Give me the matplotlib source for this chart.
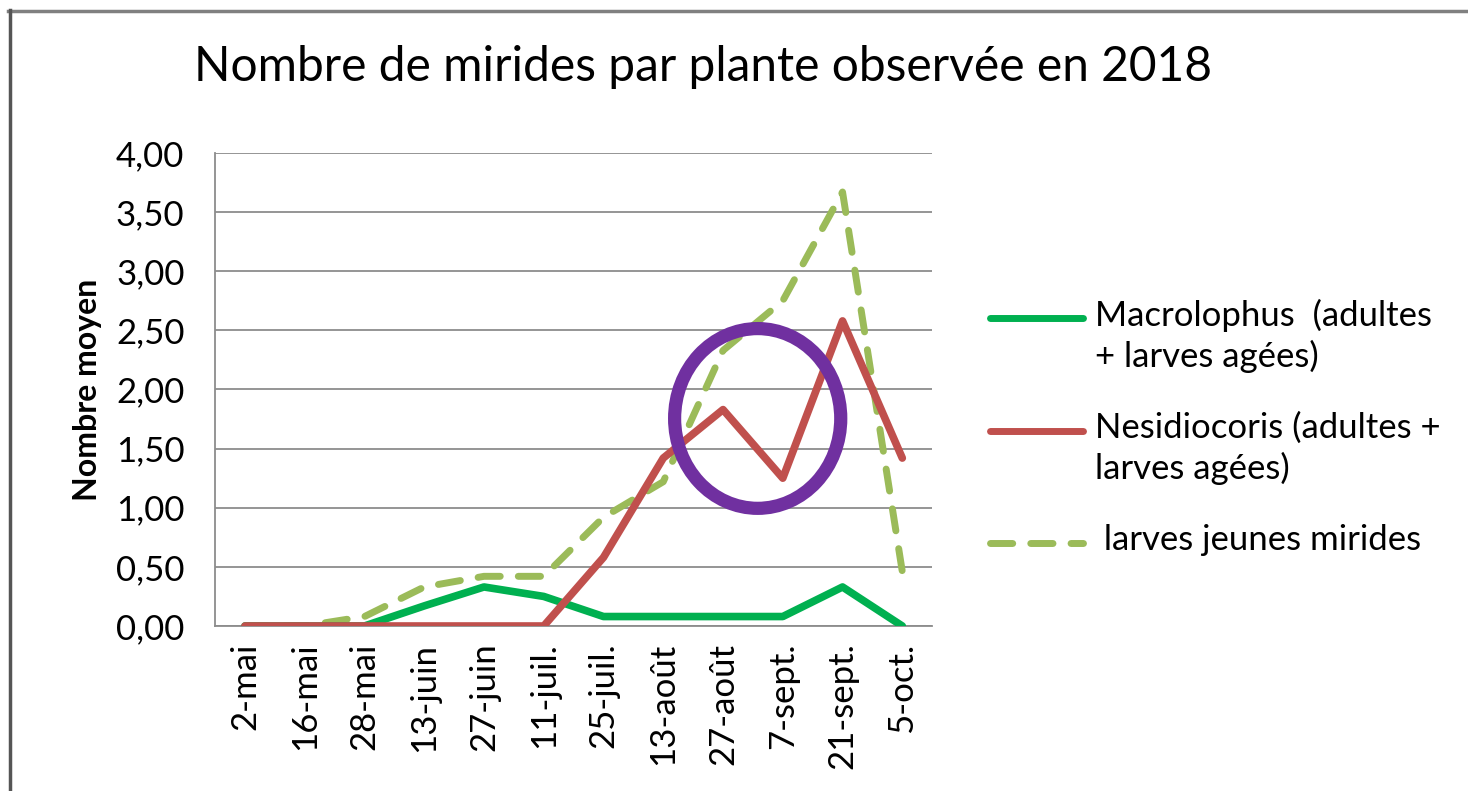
import matplotlib
matplotlib.use("Agg")
import matplotlib.pyplot as plt
from matplotlib.lines import Line2D
from matplotlib.patches import Ellipse

plt.rcParams['font.family'] = ['Lato', 'DejaVu Sans']

dates = ['2-mai', '16-mai', '28-mai', '13-juin', '27-juin', '11-juil.', '25-juil.',
         '13-août', '27-août', '7-sept.', '21-sept.', '5-oct.']
macrolophus = [0, 0, 0, 0.17, 0.33, 0.25, 0.08, 0.08, 0.08, 0.08, 0.33, 0]
nesidiocoris = [0, 0, 0, 0, 0, 0, 0.58, 1.42, 1.83, 1.25, 2.58, 1.42]
larves_jeunes = [0, 0, 0.08, 0.33, 0.42, 0.42, 0.92, 1.22, 2.33, 2.75, 3.67, 0.46]

yticks = [0, 0.5, 1, 1.5, 2, 2.5, 3, 3.5, 4]
ytick_labels = ['0,00', '0,50', '1,00', '1,50', '2,00', '2,50', '3,00', '3,50', '4,00']

c_macro = '#00B050'
c_nesi = '#C0504D'
c_jeunes = '#9BBB59'
c_circle = '#7030A0'

fig = plt.figure(figsize=(14.68, 7.91), dpi=100)
ax = fig.add_axes([0.1465, 0.2086, 0.4885, 0.598])

x = list(range(len(dates)))
ax.plot(x, macrolophus, color=c_macro, lw=5.5, solid_capstyle='round', solid_joinstyle='round', zorder=3)
ax.plot(x, nesidiocoris, color=c_nesi, lw=5.5, solid_capstyle='round', solid_joinstyle='round', zorder=4)
ax.plot(x, larves_jeunes, color=c_jeunes, lw=5, dashes=(3.2, 2.6), dash_capstyle='round', zorder=2)

# purple circle highlighting the dip
ax.add_patch(Ellipse((8.58, 1.755), 2.78, 1.52, fill=False, ec=c_circle, lw=9.5, zorder=5))

ax.set_xlim(-0.5, len(dates) - 0.5)
ax.set_ylim(0, 4)
ax.set_yticks(yticks)
ax.set_yticklabels(ytick_labels, fontsize=25)
ax.set_xticks(x)
ax.set_xticklabels(dates, rotation=90, fontsize=25)
ax.tick_params(length=0)
ax.tick_params(axis='x', pad=12)
ax.tick_params(axis='y', pad=22)

ax.grid(axis='y', color='#8c8c8c', lw=1.3)
ax.set_axisbelow(True)
for s in ['top', 'right']:
    ax.spines[s].set_visible(False)
for s in ['left', 'bottom']:
    ax.spines[s].set_color('#8c8c8c')
    ax.spines[s].set_linewidth(1.3)

ax.set_ylabel('Nombre moyen', fontsize=23, fontweight='bold', labelpad=10)

fig.text(0.479, 0.915, 'Nombre de mirides par plante observée en 2018',
         ha='center', va='center', fontsize=34.5)

# legend drawn by hand (first line of each label aligned with its key)
leg_items = [
    (c_macro, '-', 'Macrolophus  (adultes\n+ larves agées)', 318),
    (c_nesi, '-', 'Nesidiocoris (adultes +\nlarves agées)', 431),
    (c_jeunes, '--', ' larves jeunes mirides', 543),
]
W, H = 1468, 791
for col, ls, lab, ypix in leg_items:
    yf = 1 - ypix / H
    kw = dict(color=col, lw=5, solid_capstyle='round')
    if ls == '--':
        kw = dict(color=col, lw=5, dashes=(3.2, 2.6), dash_capstyle='round')
    fig.add_artist(Line2D([990 / W, 1083 / W], [yf, yf], transform=fig.transFigure, **kw))
    fig.text(1095 / W, yf + 19 / H, lab, ha='left', va='top', fontsize=25,
             linespacing=1.27)

# frame of the original screenshot
fig.add_artist(Line2D([8 / W, 1], [1 - 11 / H, 1 - 11 / H], transform=fig.transFigure,
                      color='#808080', lw=2.5))
fig.add_artist(Line2D([10 / W, 10 / W], [0, 1 - 10 / H], transform=fig.transFigure,
                      color='#555555', lw=2.5))

fig.savefig('out.png', dpi=100)
